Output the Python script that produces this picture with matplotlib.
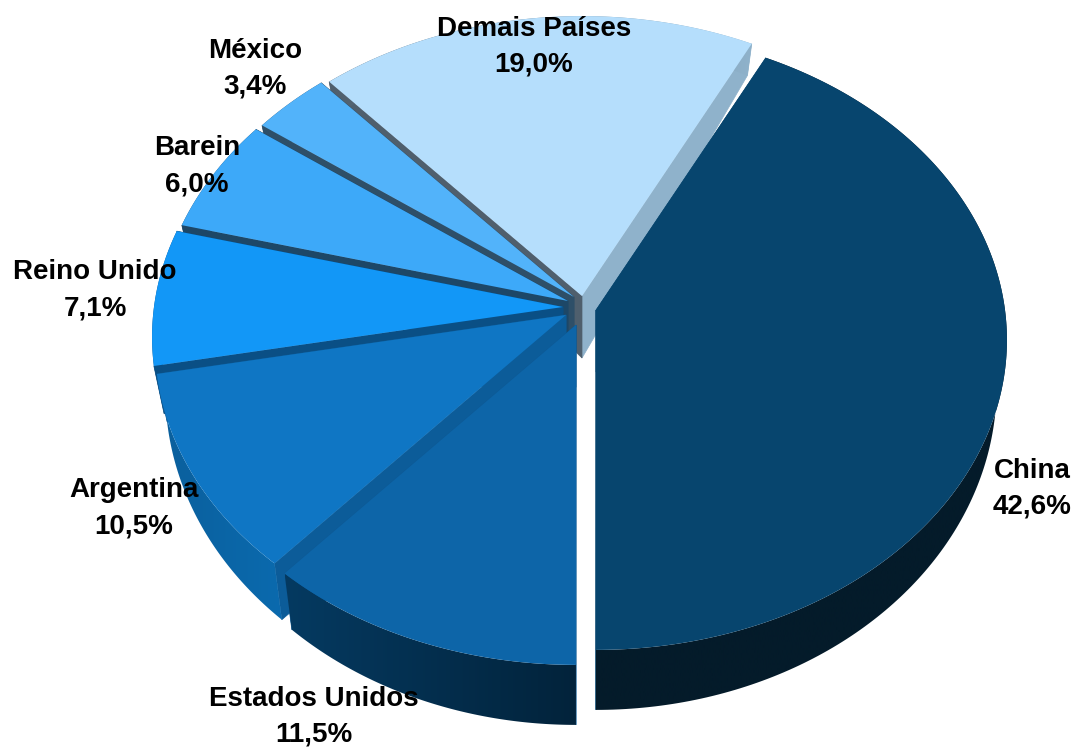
import matplotlib
matplotlib.use('Agg')
import matplotlib.pyplot as plt
import matplotlib.colors as mcolors
from matplotlib.patches import Polygon
import numpy as np

# Dados do grafico
paises = ['China', 'Estados Unidos', 'Argentina', 'Reino Unido', 'Barein', 'México', 'Demais Países']
valores = [42.6, 11.5, 10.5, 7.1, 6.0, 3.4, 19.0]

# Estilo de cada fatia
cor_topo = ['#07456E', '#0D65A8', '#0F76C4', '#1297F7', '#3DA9F9', '#52B3FA', '#B5DEFC']
cor_borda = [('#041B2A', '#041B2A'), ('#053A61', '#02233B'), ('#0A5F9C', '#0B6AAE'),
             ('#0A4F85', '#0A4F85'), ('#1D4767', '#1D4767'), ('#2E4F68', '#2E4F68'),
             ('#4F5F6D', '#8FB2CB')]
cor_parede = [('#07456E', '#07456E'), ('#0C5A96', '#0C5A96'), ('#0C5C99', '#0C5C99'),
              ('#0A4F85', '#0A4F85'), ('#1D4767', '#1D4767'), ('#2E4F68', '#2E4F68'),
              ('#4F5F6D', '#8FB2CB')]
apices = [(596, 310), (576, 325), (566, 315), (563, 307), (568, 301), (574, 297), (582, 296)]
ordem = [6, 5, 4, 3, 2, 1, 0]

# Posicao dos rotulos
pos_rotulo = [(1032, 489), (314, 717), (134, 508), (95, 290), (197, 166), (255, 69), (534, 47)]

angulo_inicial = 26.8
rx, a, k = 409.0, 307.0, 0.0968
encolhe = 0.975
fig = plt.figure(figsize=(10.74, 7.5), dpi=100)
ax = fig.add_axes([0, 0, 1, 1])


# Projecao em perspectiva do disco
def proj(theta, r, apice):
	t = np.radians(theta)
	u = r * np.sin(t)
	v = r * np.cos(t)
	w = 1 + k * v
	return apice[0] + rx * u / w, apice[1] - a * v / w


# Mesma projecao, na face de baixo da fatia
def proj_base(theta, apice):
	x, y = proj(theta, 1, apice)
	return apice[0] + (x - apice[0]) * encolhe, y + 45 - 15 * np.cos(np.radians(theta))


def parede(theta, apice, cor, z):
	x0, y0 = proj(theta, 0, apice)
	x1, y1 = proj(theta, 1, apice)
	x2, y2 = proj_base(theta, apice)
	ax.fill([x0, x1, x2, x0], [y0, y1, y2, y0 + 62], color=cor, lw=0.5, zorder=z)


fracao = np.array(valores) / np.sum(valores) * 360
inicio = angulo_inicial + np.concatenate([[0], np.cumsum(fracao)[:-1]])

z = 1
for i in ordem:
	t1 = inicio[i]
	t2 = t1 + fracao[i]
	ap = apices[i]
	parede(t2, ap, cor_parede[i][1], z)
	parede(t1, ap, cor_parede[i][0], z)
	# Borda externa com degrade horizontal
	tt = np.linspace(t1, t2, 200)
	xs, ys = proj(tt, 1, ap)
	xb, yb = proj_base(tt, ap)
	px = np.r_[xs, xb[::-1]]
	py = np.r_[ys, yb[::-1]]
	c1 = np.array(mcolors.to_rgb(cor_borda[i][0]))
	c2 = np.array(mcolors.to_rgb(cor_borda[i][1]))
	grad = np.linspace(c1, c2, 256)[None, :, :]
	im = ax.imshow(grad, extent=[px.min(), px.max(), py.max(), py.min()], aspect='auto',
		zorder=z + 0.1, interpolation='bilinear')
	clip = Polygon(np.c_[px, py], closed=True, transform=ax.transData, fc='none', ec='none')
	ax.add_patch(clip)
	im.set_clip_path(clip)
	# Topo da fatia
	x0, y0 = proj(t1, 0, ap)
	ax.fill(np.r_[x0, xs], np.r_[y0, ys], color=cor_topo[i], lw=0, zorder=z + 0.2)
	z += 1

for nome, valor, p in zip(paises, valores, pos_rotulo):
	rotulo = nome + '\n' + f'{valor:.1f}'.replace('.', ',') + '%'
	ax.text(p[0], p[1], rotulo, ha='center', va='center', fontsize=20, fontweight='bold',
		family='Liberation Sans', linespacing=1.5, color='black', zorder=50)

ax.set_xlim(0, 1074)
ax.set_ylim(750, 0)
ax.axis('off')
fig.savefig('out.png', dpi=100)
